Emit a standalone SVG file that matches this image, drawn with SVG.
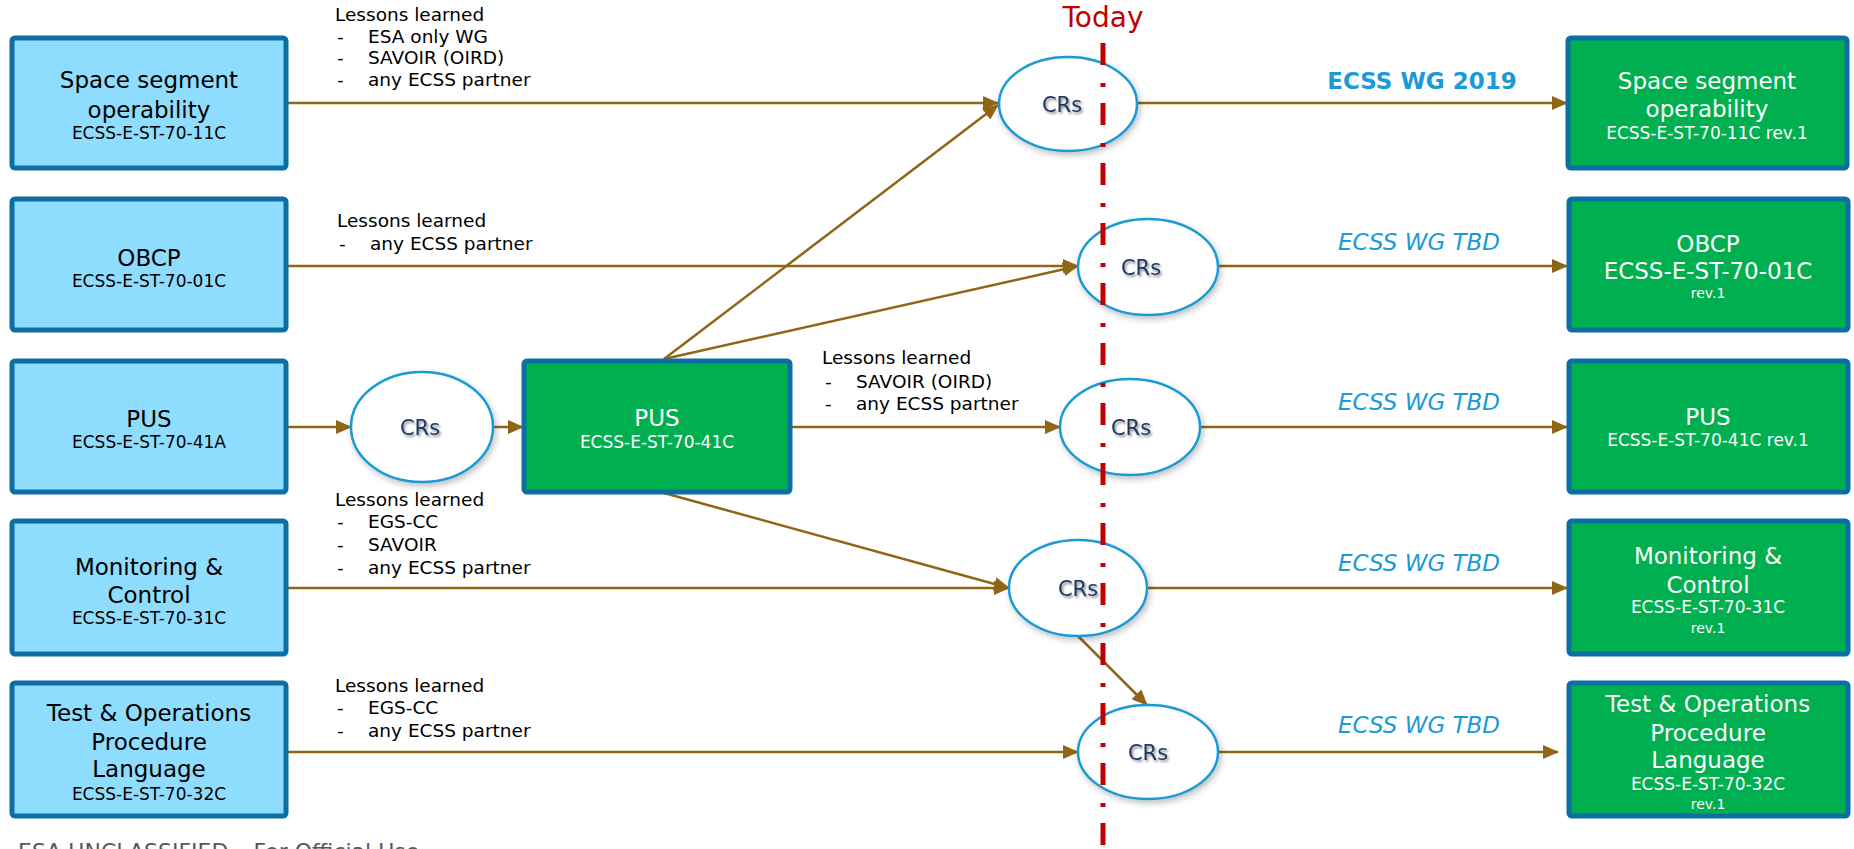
<svg xmlns="http://www.w3.org/2000/svg" width="1854" height="849" viewBox="0 0 1854 849">
<defs>
<marker id="arr" markerUnits="userSpaceOnUse" markerWidth="16" markerHeight="14" refX="15" refY="7" orient="auto"><path d="M0,0 L16,7 L0,14 z" fill="#8f6516"/></marker>
<filter id="sh" x="-20%" y="-20%" width="150%" height="150%"><feDropShadow dx="2" dy="3" stdDeviation="3" flood-color="#000" flood-opacity="0.25"/></filter>
<filter id="tsh" x="-20%" y="-30%" width="150%" height="170%"><feDropShadow dx="1.5" dy="2" stdDeviation="1.2" flood-color="#000" flood-opacity="0.45"/></filter>
</defs>
<style>
text { font-family: "DejaVu Sans", Verdana, sans-serif; }
.src rect { fill: #8edcfe; stroke: #0c6ea2; stroke-width: 5; }
.dst rect { fill: #00b050; stroke: #0c6ea2; stroke-width: 5; }
.t { font-size: 23px; text-anchor: middle; }
.c { font-size: 17px; text-anchor: middle; }
.r { font-size: 14px; text-anchor: middle; }
.src text { fill: #000; }
.dst text { fill: #fff; }
.ll { font-size: 18.5px; fill: #000; }
.conn line { stroke: #8f6516; stroke-width: 2.5; marker-end: url(#arr); }
.cr ellipse { fill: #fff; stroke: #1a9ad6; stroke-width: 2.5; filter: url(#sh); }
.cr text { font-size: 21px; fill: #1f3864; text-anchor: middle; filter: url(#tsh); }
.wg { font-size: 23px; fill: #1a9ad6; text-anchor: middle; }
</style>
<rect width="1854" height="849" fill="#fff"/>

<g id="connectors" class="conn">
<line x1="287" y1="103" x2="998" y2="103"/>
<line x1="1137" y1="103" x2="1567" y2="103"/>
<line x1="664" y1="359" x2="998" y2="105"/>
<line x1="287" y1="266" x2="1078" y2="266"/>
<line x1="664" y1="359" x2="1078" y2="266"/>
<line x1="1218" y1="266" x2="1567" y2="266"/>
<line x1="287" y1="427" x2="351" y2="427"/>
<line x1="493" y1="427" x2="523" y2="427"/>
<line x1="791" y1="427" x2="1060" y2="427"/>
<line x1="1200" y1="427" x2="1567" y2="427"/>
<line x1="664" y1="493" x2="1009" y2="588"/>
<line x1="287" y1="588" x2="1009" y2="588"/>
<line x1="1147" y1="588" x2="1567" y2="588"/>
<line x1="1078" y1="636" x2="1147" y2="705"/>
<line x1="287" y1="752" x2="1078" y2="752"/>
<line x1="1218" y1="752" x2="1558" y2="752"/>
</g>

<g id="lessons">
<text class="ll"><tspan x="335" y="21">Lessons learned</tspan><tspan x="337" y="43">-</tspan><tspan x="368" y="43">ESA only WG</tspan><tspan x="337" y="64">-</tspan><tspan x="368" y="64">SAVOIR (OIRD)</tspan><tspan x="337" y="86">-</tspan><tspan x="368" y="86">any ECSS partner</tspan></text>
<text class="ll"><tspan x="337" y="227">Lessons learned</tspan><tspan x="339" y="250">-</tspan><tspan x="370" y="250">any ECSS partner</tspan></text>
<text class="ll"><tspan x="822" y="364">Lessons learned</tspan><tspan x="825" y="388">-</tspan><tspan x="856" y="388">SAVOIR (OIRD)</tspan><tspan x="825" y="410">-</tspan><tspan x="856" y="410">any ECSS partner</tspan></text>
<text class="ll"><tspan x="335" y="506">Lessons learned</tspan><tspan x="337" y="528">-</tspan><tspan x="368" y="528">EGS-CC</tspan><tspan x="337" y="551">-</tspan><tspan x="368" y="551">SAVOIR</tspan><tspan x="337" y="574">-</tspan><tspan x="368" y="574">any ECSS partner</tspan></text>
<text class="ll"><tspan x="335" y="692">Lessons learned</tspan><tspan x="337" y="714">-</tspan><tspan x="368" y="714">EGS-CC</tspan><tspan x="337" y="737">-</tspan><tspan x="368" y="737">any ECSS partner</tspan></text>
</g>

<g id="wg-labels">
<text class="wg" x="1422" y="89" font-weight="bold">ECSS WG 2019</text>
<text class="wg" x="1419" y="250" font-style="italic">ECSS WG TBD</text>
<text class="wg" x="1419" y="410" font-style="italic">ECSS WG TBD</text>
<text class="wg" x="1419" y="571" font-style="italic">ECSS WG TBD</text>
<text class="wg" x="1419" y="733" font-style="italic">ECSS WG TBD</text>
</g>

<g id="src-sso" class="src"><rect x="12" y="38" width="274" height="130" rx="3"/><text class="t" x="149" y="88">Space segment</text><text class="t" x="149" y="118">operability</text><text class="c" x="149" y="139">ECSS-E-ST-70-11C</text></g>
<g id="src-obcp" class="src"><rect x="12" y="199" width="274" height="131" rx="3"/><text class="t" x="149" y="266">OBCP</text><text class="c" x="149" y="287">ECSS-E-ST-70-01C</text></g>
<g id="src-pus" class="src"><rect x="12" y="361" width="274" height="131" rx="3"/><text class="t" x="149" y="427">PUS</text><text class="c" x="149" y="448">ECSS-E-ST-70-41A</text></g>
<g id="src-mc" class="src"><rect x="12" y="521" width="274" height="133" rx="3"/><text class="t" x="149" y="575">Monitoring &amp;</text><text class="t" x="149" y="603">Control</text><text class="c" x="149" y="624">ECSS-E-ST-70-31C</text></g>
<g id="src-topl" class="src"><rect x="12" y="683" width="274" height="133" rx="3"/><text class="t" x="149" y="721">Test &amp; Operations</text><text class="t" x="149" y="750">Procedure</text><text class="t" x="149" y="777">Language</text><text class="c" x="149" y="800">ECSS-E-ST-70-32C</text></g>

<g id="pus-c" class="dst"><rect x="524" y="361" width="266" height="131" rx="3"/><text class="t" x="657" y="426">PUS</text><text class="c" x="657" y="448">ECSS-E-ST-70-41C</text></g>

<g id="dst-sso" class="dst"><rect x="1568" y="38" width="279" height="130" rx="3"/><text class="t" x="1707" y="89">Space segment</text><text class="t" x="1707" y="117">operability</text><text class="c" x="1707" y="139">ECSS-E-ST-70-11C rev.1</text></g>
<g id="dst-obcp" class="dst"><rect x="1569" y="199" width="279" height="131" rx="3"/><text class="t" x="1708" y="252">OBCP</text><text class="t" x="1708" y="279">ECSS-E-ST-70-01C</text><text class="r" x="1708" y="298">rev.1</text></g>
<g id="dst-pus" class="dst"><rect x="1569" y="361" width="279" height="131" rx="3"/><text class="t" x="1708" y="425">PUS</text><text class="c" x="1708" y="446">ECSS-E-ST-70-41C rev.1</text></g>
<g id="dst-mc" class="dst"><rect x="1569" y="521" width="279" height="133" rx="3"/><text class="t" x="1708" y="564">Monitoring &amp;</text><text class="t" x="1708" y="593">Control</text><text class="c" x="1708" y="613">ECSS-E-ST-70-31C</text><text class="r" x="1708" y="633">rev.1</text></g>
<g id="dst-topl" class="dst"><rect x="1569" y="683" width="279" height="133" rx="3"/><text class="t" x="1708" y="712">Test &amp; Operations</text><text class="t" x="1708" y="741">Procedure</text><text class="t" x="1708" y="768">Language</text><text class="c" x="1708" y="790">ECSS-E-ST-70-32C</text><text class="r" x="1708" y="809">rev.1</text></g>

<g id="cr0" class="cr"><ellipse cx="422" cy="427" rx="71" ry="55"/><text x="420" y="435">CRs</text></g>
<g id="cr1" class="cr"><ellipse cx="1068" cy="104" rx="69" ry="47"/><text x="1062" y="112">CRs</text></g>
<g id="cr2" class="cr"><ellipse cx="1148" cy="267" rx="70" ry="48"/><text x="1141" y="275">CRs</text></g>
<g id="cr3" class="cr"><ellipse cx="1130" cy="427" rx="70" ry="48"/><text x="1131" y="435">CRs</text></g>
<g id="cr4" class="cr"><ellipse cx="1078" cy="588" rx="69" ry="48"/><text x="1078" y="596">CRs</text></g>
<g id="cr5" class="cr"><ellipse cx="1148" cy="752" rx="70" ry="47"/><text x="1148" y="760">CRs</text></g>

<g id="today">
<line x1="1103" y1="43" x2="1103" y2="849" stroke="#c00000" stroke-width="5" stroke-dasharray="22 18 4 16"/>
<text x="1103" y="27" font-size="28" fill="#c00000" text-anchor="middle">Today</text>
</g>

<text x="18" y="859" font-size="22" fill="#595959">ESA UNCLASSIFIED – For Official Use</text>
</svg>
